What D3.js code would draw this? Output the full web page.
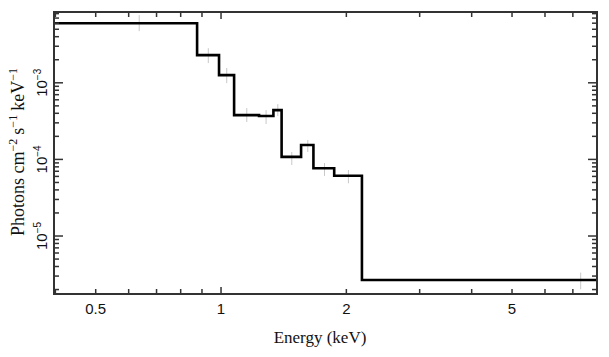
<!DOCTYPE html>
<html><head><meta charset="utf-8">
<script src="https://cdn.jsdelivr.net/npm/d3@7"></script>
<style>body{margin:0;background:#fff}svg{display:block}</style>
</head><body>
<svg id="c" width="609" height="357"></svg>
<script>
// Model step spectrum: bin edges (keV) and model values
const binEdges = [0.397, 0.876, 0.989, 1.075, 1.234, 1.336, 1.398, 1.557, 1.667, 1.87, 2.18, 8.0];
const modelValues = [6.0e-3, 2.3e-3, 1.26e-3, 3.79e-4, 3.68e-4, 4.4e-4, 1.08e-4, 1.54e-4, 7.66e-5, 6.13e-5, 2.67e-6];
// Data points: energy and error range
const dataEnergy = [0.636, 0.932, 1.032, 1.153, 1.283, 1.369, 1.479, 1.616, 1.772, 2.023, 7.31];
const dataLow  = [4.72e-3, 1.81e-3, 9.9e-4, 3.08e-4, 2.9e-4, 3.68e-4, 8.45e-5, 1.25e-4, 6.08e-5, 4.88e-5, 2.02e-6];
const dataHigh = [7.64e-3, 2.83e-3, 1.56e-3, 4.68e-4, 4.4e-4, 5.27e-4, 1.25e-4, 1.79e-4, 8.97e-5, 7.28e-5, 3.33e-6];
const xTickLabels = [0.5, 1, 2, 5];
const yTickLabels = [-5, -4, -3];

const L = 54, R = 597, T = 12, B = 294;
const svg = d3.select("#c");
const x = d3.scaleLog().domain([0.397, 8.0]).range([L, R]);
const y = d3.scaleLog().domain([1.75e-6, 8.4e-3]).range([B, T]);

// error bars
svg.append("g").selectAll("line").data(dataEnergy).join("line")
  .attr("x1", d => x(d)).attr("x2", d => x(d))
  .attr("y1", (d,i) => y(dataLow[i])).attr("y2", (d,i) => y(dataHigh[i]))
  .attr("stroke", "#c8c8c8").attr("stroke-width", 1);

// model step line
const pts = binEdges.map((e,i) => [e, modelValues[Math.min(i, modelValues.length-1)]]);
svg.append("path").datum(pts)
  .attr("d", d3.line().x(d => x(d[0])).y(d => y(d[1])).curve(d3.curveStepAfter))
  .attr("fill", "none").attr("stroke", "#000").attr("stroke-width", 2.6);

// frame
const axColor = "#333";
svg.append("rect").attr("x", L).attr("y", T).attr("width", R-L).attr("height", B-T)
  .attr("fill", "none").attr("stroke", axColor).attr("stroke-width", 2);

// x ticks
const xMinor = [0.4,0.5,0.6,0.7,0.8,0.9,1,2,3,4,5,6,7,8].filter(v => x(v) > L+1 && x(v) < R-1);
const xt = svg.append("g");
xMinor.forEach(v => {
  const len = v === 1 ? 7 : 5;
  xt.append("line").attr("x1", x(v)).attr("x2", x(v)).attr("y1", B).attr("y2", B-len).attr("stroke", axColor).attr("stroke-width", 1.5);
  xt.append("line").attr("x1", x(v)).attr("x2", x(v)).attr("y1", T).attr("y2", T+len).attr("stroke", axColor).attr("stroke-width", 1.5);
});
xTickLabels.forEach(v => {
  svg.append("text").attr("x", x(v)).attr("y", 314).attr("text-anchor", "middle")
    .attr("font-family", "Liberation Sans, Arial, sans-serif").attr("font-size", 15).attr("fill", "#111").text(v);
});

// y ticks
const yt = svg.append("g");
for (let e = -6; e <= -2; e++) {
  for (let m = 1; m <= 9; m++) {
    const v = m * Math.pow(10, e);
    if (y(v) < T+1 || y(v) > B-1) continue;
    const len = m === 1 ? 9 : 5;
    yt.append("line").attr("x1", L).attr("x2", L+len).attr("y1", y(v)).attr("y2", y(v)).attr("stroke", axColor).attr("stroke-width", 1.5);
    yt.append("line").attr("x1", R).attr("x2", R-len).attr("y1", y(v)).attr("y2", y(v)).attr("stroke", axColor).attr("stroke-width", 1.5);
  }
}
yTickLabels.forEach(e => {
  const t = svg.append("text").attr("transform", `translate(47,${y(Math.pow(10,e))}) rotate(-90)`)
    .attr("text-anchor", "middle").attr("font-family", "Liberation Sans, Arial, sans-serif")
    .attr("font-size", 15).attr("fill", "#111");
  t.append("tspan").text("10");
  t.append("tspan").attr("font-size", 10).attr("dy", -6).text("\u2212" + Math.abs(e));
});

// axis titles
svg.append("text").attr("x", 320).attr("y", 343).attr("text-anchor", "middle")
  .attr("font-family", "Liberation Serif, Times New Roman, serif").attr("font-size", 17).attr("fill", "#111")
  .text("Energy (keV)");
const yl = svg.append("text").attr("transform", "translate(24,152) rotate(-90)").attr("text-anchor", "middle")
  .attr("font-family", "Liberation Serif, Times New Roman, serif").attr("font-size", 18).attr("fill", "#111");
yl.append("tspan").text("Photons cm");
yl.append("tspan").attr("font-size", 12).attr("dy", -7).text("\u22122");
yl.append("tspan").attr("dy", 7).attr("dx", 4).text("s");
yl.append("tspan").attr("font-size", 12).attr("dy", -7).text("\u22121");
yl.append("tspan").attr("dy", 7).attr("dx", 4).text("keV");
yl.append("tspan").attr("font-size", 12).attr("dy", -7).text("\u22121");
</script>
</body></html>
